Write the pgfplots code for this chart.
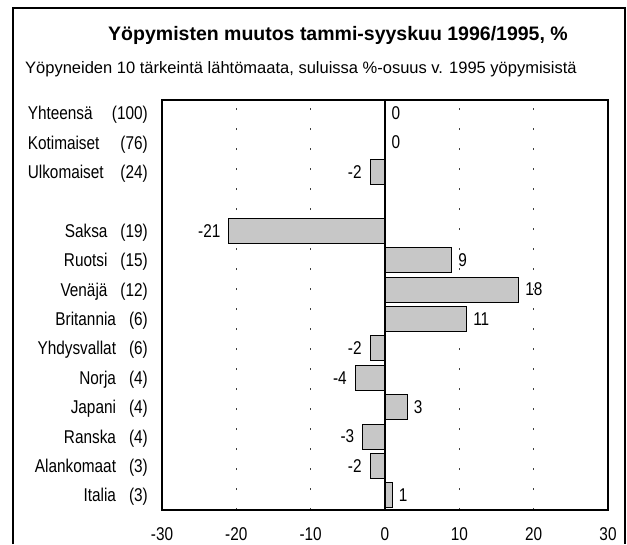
\documentclass[border=0pt]{standalone}
\usepackage{fontspec}
\setmainfont{Liberation Sans}
\newfontfamily\narrow{Liberation Sans}[FakeStretch=0.83]
\usepackage{pgfplots}
\pgfplotsset{compat=1.18}
\usepackage{pgfplotstable}

\pgfplotstableread{
x y lab
0 0 0
0 -1 0
9 -5 9
18 -6 18
11 -7 11
3 -10 3
1 -13 1
}\pos
\pgfplotstableread{
x y lab
-2 -2 -2
-21 -4 -21
-2 -8 -2
-4 -9 -4
-3 -11 -3
-2 -12 -2
}\negv

\newcommand\lb[2]{\makebox[120pt]{#1\hfill#2}}
\newcommand\rb[2]{#1\hspace{13pt}#2}

\begin{document}
\begin{tikzpicture}
\path[use as bounding box] (0pt,0pt) rectangle (627pt,-544pt);
\draw[line width=1.2pt] (13pt,-544pt) -- (13pt,-8pt) -- (625pt,-8pt) -- (625pt,-544pt);
\node[anchor=base, inner sep=0pt, font=\bfseries\fontsize{19.5}{21}\selectfont] at (338pt,-40pt) {Yöpymisten muutos tammi-syyskuu 1996/1995, \%};
\node[anchor=base west, inner sep=0pt, font=\fontsize{16.5}{18}\selectfont] at (25pt,-73pt) {Yöpyneiden 10 tärkeintä lähtömaata, suluissa \%-osuus v. 1995 yöpymisistä};
\begin{axis}[
  at={(162pt,-510pt)}, anchor=south west, scale only axis,
  width=446pt, height=410pt,
  xmin=-30, xmax=30, ymin=-13.5, ymax=0.45,
  axis line style={line width=1.1pt},
  xtick={-30,-20,...,30}, xticklabels={-30,-20,-10,0,10,20,30},
  xtick pos=bottom, major tick length=0pt,
  xticklabel style={inner sep=0pt, anchor=base, yshift=-30pt, font=\narrow\fontsize{18.5}{20}\selectfont},
  ytick={0,-1,-2,-4,-5,-6,-7,-8,-9,-10,-11,-12,-13},
  yticklabels={\lb{Yhteensä}{(100)},\lb{Kotimaiset}{(76)},\lb{Ulkomaiset}{(24)},\rb{Saksa}{(19)},\rb{Ruotsi}{(15)},\rb{Venäjä}{(12)},\rb{Britannia}{(6)},\rb{Yhdysvallat}{(6)},\rb{Norja}{(4)},\rb{Japani}{(4)},\rb{Ranska}{(4)},\rb{Alankomaat}{(3)},\rb{Italia}{(3)}},
  yticklabel style={anchor=base east, inner sep=0pt, xshift=-14pt, yshift=-6.6pt, font=\narrow\fontsize{18.5}{20}\selectfont},
  ytick style={draw=none},
  xmajorgrids,
  grid style={black!75, line width=0.8pt, dash pattern=on 2.5pt off 17.5pt},
  bar width=0.85, bar shift=0pt,
]
\addplot[xbar, fill=black!22, draw=black, line width=1pt,
  nodes near coords, point meta=explicit symbolic,
  every node near coord/.append style={anchor=west, inner sep=0pt, xshift=6pt, text=black, font=\narrow\fontsize{18.5}{20}\selectfont}]
  table[x=x, y=y, meta=lab]{\pos};
\addplot[xbar, fill=black!22, draw=black, line width=1pt,
  nodes near coords, point meta=explicit symbolic,
  every node near coord/.append style={anchor=east, inner sep=0pt, xshift=-8pt, text=black, font=\narrow\fontsize{18.5}{20}\selectfont}]
  table[x=x, y=y, meta=lab]{\negv};
\draw[line width=1.1pt] (axis cs:0,0.45) -- (axis cs:0,-13.5);
\end{axis}
\end{tikzpicture}
\end{document}
